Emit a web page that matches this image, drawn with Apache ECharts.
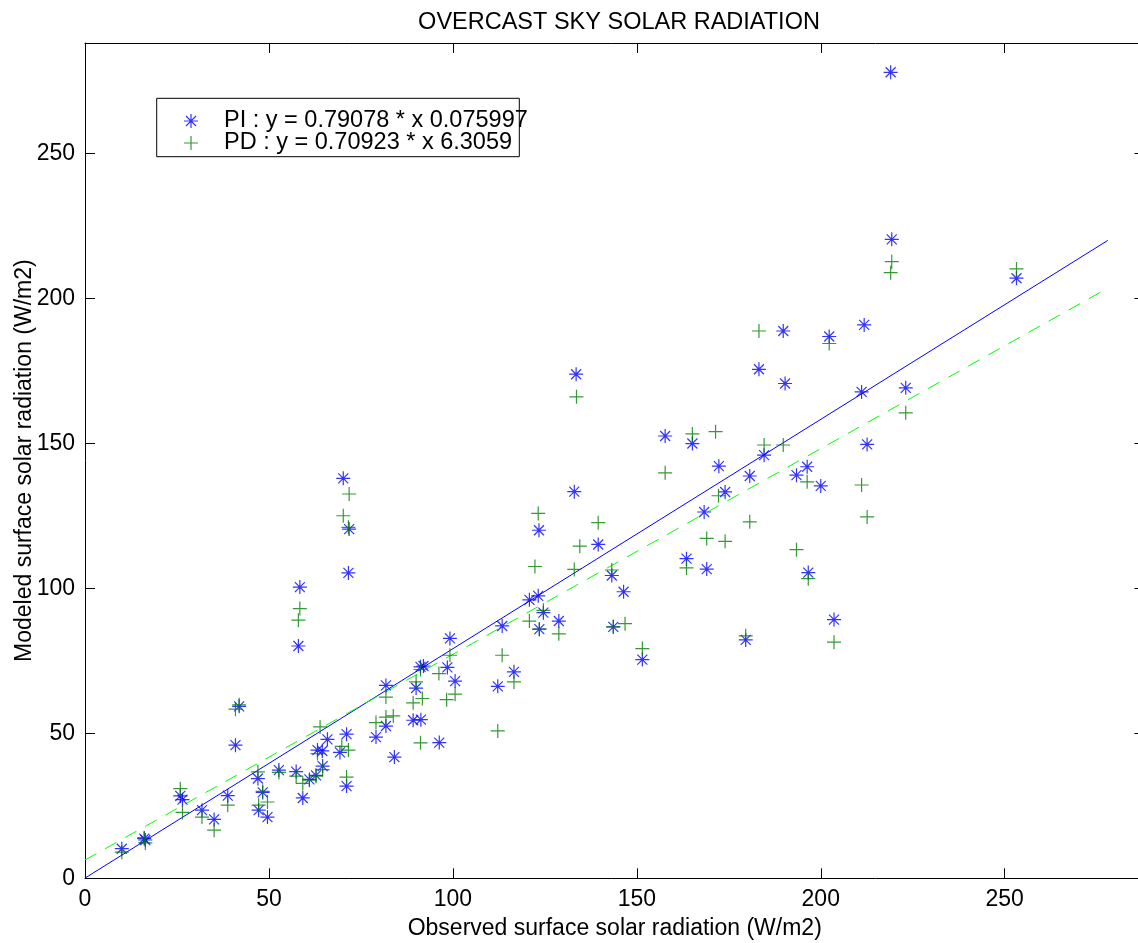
<!DOCTYPE html>
<html>
<head>
<meta charset="utf-8">
<script src="https://cdn.jsdelivr.net/npm/echarts@6/dist/echarts.min.js"></script>
<style>
html, body { margin: 0; padding: 0; background: #fff; }
#chart { width: 1138px; height: 943px; }
</style>
</head>
<body>
<div id="chart"></div>
<script>
// Observed vs modelled surface solar radiation (W/m2), overcast sky
const piX = [10.0, 16.1, 16.4, 25.9, 26.5, 31.8, 35.1, 38.8, 41.9, 40.9, 47.0, 47.2, 48.3, 49.6, 52.7, 57.4, 59.2, 61.0, 62.8, 63.2, 64.5, 64.6, 65.9, 69.3, 71.1, 71.1, 79.1, 58.4, 58.0, 70.2, 71.8, 71.6, 81.8, 81.8, 84.1, 89.2, 91.3, 90.0, 91.2, 92.0, 96.3, 98.5, 99.2, 100.6, 112.2, 113.4, 116.6, 120.8, 123.2, 124.6, 123.5, 128.8, 123.4, 133.5, 133.0, 139.5, 143.2, 146.4, 143.6, 151.5, 157.7, 165.1, 172.3, 174.0, 168.3, 163.5, 169.0, 179.6, 180.7, 184.6, 183.2, 190.3, 189.8, 202.3, 211.1, 212.6, 193.4, 196.3, 200.0, 196.6, 203.6, 219.3, 219.0, 253.2, 211.8, 223.1];
const piY = [10.2, 13.7, 13.2, 28.4, 27.1, 23.5, 20.3, 28.5, 59.3, 45.9, 34.4, 23.5, 29.6, 21.1, 37.3, 36.8, 27.7, 34.1, 35.5, 44.2, 43.9, 38.7, 47.9, 43.4, 49.7, 31.8, 48.7, 100.4, 80.1, 137.9, 120.4, 105.3, 66.5, 52.5, 41.8, 54.5, 54.7, 65.6, 72.9, 73.2, 46.8, 72.7, 82.7, 68.0, 66.2, 87.0, 71.2, 96.0, 97.4, 91.6, 85.9, 88.7, 120.0, 173.8, 133.3, 115.1, 104.4, 98.8, 86.7, 75.4, 152.5, 149.9, 142.1, 133.2, 126.3, 110.2, 106.6, 82.2, 138.7, 145.9, 175.5, 170.6, 188.7, 186.8, 167.7, 149.6, 139.0, 141.9, 135.3, 105.4, 89.2, 220.3, 277.9, 206.9, 190.8, 169.1];

const pdX = [10.0, 16.1, 16.4, 25.9, 26.5, 31.8, 35.1, 38.8, 41.9, 40.9, 47.0, 47.2, 48.3, 49.6, 52.7, 57.4, 59.2, 61.0, 62.8, 63.2, 63.9, 64.6, 69.8, 71.6, 71.1, 79.1, 58.4, 58.0, 70.2, 71.8, 71.6, 81.8, 81.8, 83.8, 89.2, 91.2, 90.0, 91.2, 91.7, 96.2, 98.3, 99.2, 100.6, 112.2, 113.4, 116.6, 120.8, 122.3, 124.6, 123.5, 128.8, 123.2, 133.6, 133.0, 134.5, 139.5, 143.2, 146.8, 143.6, 151.5, 157.7, 165.1, 171.4, 172.2, 174.0, 169.0, 163.5, 179.6, 180.7, 184.6, 183.2, 189.8, 202.3, 211.1, 212.6, 193.4, 196.3, 196.6, 203.6, 219.3, 219.0, 253.2, 223.1];
const pdY = [9.0, 14.0, 12.2, 30.9, 22.7, 21.1, 16.6, 25.2, 59.8, 58.3, 36.7, 25.2, 30.0, 26.3, 36.5, 35.2, 32.7, 33.8, 35.2, 43.0, 52.2, 37.5, 45.5, 44.2, 34.9, 53.7, 93.0, 89.0, 125.0, 132.5, 121.0, 62.5, 55.6, 56.0, 60.5, 46.7, 67.7, 72.0, 62.0, 70.6, 61.6, 76.9, 63.5, 50.8, 76.9, 67.7, 88.7, 107.5, 92.4, 85.9, 84.3, 125.8, 166.0, 106.5, 114.5, 122.6, 106.3, 87.8, 86.7, 79.2, 139.8, 153.2, 154.0, 131.9, 116.2, 117.2, 107.0, 83.6, 122.9, 149.4, 188.7, 149.4, 184.4, 135.6, 124.6, 113.3, 136.7, 103.3, 81.4, 212.6, 208.8, 210.1, 160.5];

// Linear fits quoted in the legend
const piFit = { slope: 0.79078, intercept: 0.075997 };
const pdFit = { slope: 0.70923, intercept: 6.3059 };
const fitRange = [0, 278];

const xTicks = [0, 50, 100, 150, 200, 250];
const yTicks = [0, 50, 100, 150, 200, 250];

const piLabel = 'PI : y = 0.79078 * x 0.075997';
const pdLabel = 'PD : y = 0.70923 * x 6.3059';
const titleText = 'OVERCAST SKY SOLAR RADIATION';
const xName = 'Observed surface solar radiation (W/m2)';
const yName = 'Modeled surface solar radiation (W/m2)';

const FONT = '"Liberation Sans", Arial, Helvetica, sans-serif';
const FS = 23;

// Stroke-like marker glyphs built from thin filled bars
const PLUS = 'path://M0,6.4 H14 V7.6 H0 Z M6.4,0 H7.6 V14 H6.4 Z';
const ASTERISK = 'path://M0,6.4 H14 V7.6 H0 Z M6.4,0 H7.6 V14 H6.4 Z ' +
  'M2.42,1.58 L12.42,11.58 L11.58,12.42 L1.58,2.42 Z ' +
  'M12.42,2.42 L2.42,12.42 L1.58,11.58 L11.58,1.58 Z';

const zip = (xs, ys) => xs.map((x, i) => [x, ys[i]]);
const fitLine = f => fitRange.map(x => [x, f.slope * x + f.intercept]);

const AX_MAX = 288;

function valueAxis(pos, withLabels, extra) {
  const ticks = (pos === 'bottom' || pos === 'top') ? xTicks : yTicks;
  return Object.assign({
    type: 'value',
    position: pos,
    min: 0,
    max: AX_MAX,
    nameMoveOverlap: false,
    axisLine: { show: true, onZero: false, lineStyle: { color: '#000', width: 1 } },
    axisTick: { show: true, inside: true, length: 10, customValues: ticks, lineStyle: { color: '#000', width: 1 } },
    axisLabel: { show: withLabels, customValues: ticks, fontFamily: FONT, fontSize: FS, color: '#000', margin: 10 },
    splitLine: { show: false }
  }, extra || {});
}

const chart = echarts.init(document.getElementById('chart'), null, { renderer: 'canvas' });

chart.setOption({
  animation: false,
  backgroundColor: '#fff',
  title: {
    text: titleText,
    left: 614,
    textAlign: 'center',
    top: 6,
    textStyle: { fontFamily: FONT, fontSize: 23.5, fontWeight: 'normal', color: '#000' }
  },
  grid: { left: 85, top: 43, width: 1059.5, height: 835.3, containLabel: false, outerBoundsMode: 'none' },
  xAxis: [
    valueAxis('bottom', true, {
      name: xName, nameLocation: 'middle', nameGap: 39,
      nameTextStyle: { fontFamily: FONT, fontSize: FS, color: '#000' }
    }),
    valueAxis('top', false)
  ],
  yAxis: [
    valueAxis('left', true, {
      name: yName, nameLocation: 'middle', nameGap: 49,
      nameTextStyle: { fontFamily: FONT, fontSize: FS, color: '#000' }
    }),
    valueAxis('right', false)
  ],
  legend: {
    data: [piLabel, pdLabel],
    orient: 'vertical',
    left: 179,
    top: 104,
    itemWidth: 56,
    itemHeight: 14,
    itemGap: -2,
    selectedMode: false,
    textStyle: { fontFamily: FONT, fontSize: 23.5, color: '#000', lineHeight: 23 }
  },
  graphic: [{
    type: 'rect',
    z: 3,
    shape: { x: 156.7, y: 98.3, width: 362.6, height: 58.4 },
    style: { fill: '#fff', stroke: '#000', lineWidth: 1 }
  }],
  series: [
    {
      name: 'PI fit', type: 'line', data: fitLine(piFit),
      symbol: 'none', silent: true, z: 2,
      lineStyle: { color: '#0000ff', width: 1 }
    },
    {
      name: 'PD fit', type: 'line', data: fitLine(pdFit),
      symbol: 'none', silent: true, z: 2,
      lineStyle: { color: '#00ff00', width: 1, type: [13, 10] }
    },
    {
      name: piLabel, type: 'scatter', data: zip(piX, piY),
      symbol: ASTERISK, symbolSize: 14, z: 3,
      itemStyle: { color: '#0000ff' }
    },
    {
      name: pdLabel, type: 'scatter', data: zip(pdX, pdY),
      symbol: PLUS, symbolSize: 14, z: 3,
      itemStyle: { color: '#008000' }
    }
  ]
});
</script>
</body>
</html>
